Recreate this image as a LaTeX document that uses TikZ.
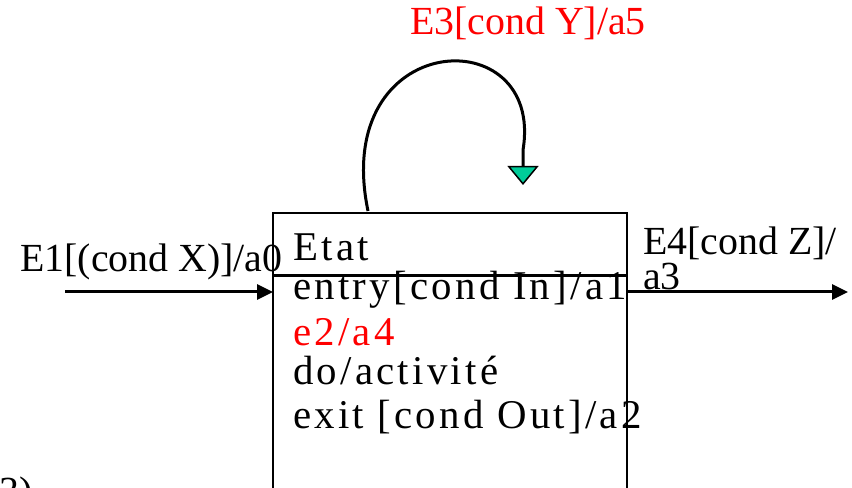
\documentclass[tikz,border=0pt]{standalone}
\usepackage{fontspec}
\setmainfont{Liberation Serif}
\newfontfamily\spacedserif[LetterSpace=8]{Liberation Serif}
\usepackage{tikz}
\usetikzlibrary{arrows.meta, calc}
\definecolor{labelred}{RGB}{255, 0, 0}
\definecolor{tipgreen}{RGB}{0, 204, 153}
\newcommand{\boxtext}{\spacedserif\fontsize{41}{46}\selectfont}
\newcommand{\lbltext}{\fontsize{40}{46}\selectfont}
\tikzset{
    trans/.style={line width=3bp, -{Triangle[length=16bp, width=15bp]}},
    lbl/.style={anchor=base west, inner sep=0pt, font=\lbltext},
    line/.style={anchor=base west, inner sep=0pt, font=\boxtext}
}

\begin{document}
\begin{tikzpicture}[x=1bp, y=-1bp]
        \useasboundingbox (0,0) rectangle (852,488);
        \clip (0,0) rectangle (852,488);
        % state box
        \node (etat) [draw, line width=2.5bp, outer sep=0pt, inner sep=0pt, minimum width=354bp, minimum height=300bp, anchor=north west] at (273,213) {};
        \draw[line width=3bp] ($(etat.north west)+(0,63)$) -- ($(etat.north east)+(0,63)$);
        \node (name) [line] at (293,261) {Etat};
        \node (entry) [line] at (293,300) {entry[cond In]/a1};
        \node (inner) [line, text=labelred] at (293,345) {e2/a4};
        \node (do) [line] at (293,384) {do/activité};
        \node (exit) [line] at (293,428) {exit [cond Out]/a2};
        % transitions
        \coordinate (src) at (65,292);
        \coordinate (dst) at (848,292);
        \draw[trans] (src) -- (src -| etat.west);
        \draw[trans] (dst -| etat.east) -- (dst);
        \coordinate (loopstart) at (368,211);
        \coordinate (looptip) at (523,185);
        \draw[line width=3bp, -{Triangle[length=19bp, width=31bp, fill=tipgreen, line width=1.5bp]}]
        (loopstart) .. controls (330,28) and (545,18) .. (523,150) -- (looptip);
        % labels
        \node (e1) [lbl] at (20,272) {E1[(cond X)]/a0};
        \node (e3) [lbl, text=labelred] at (410,35) {E3[cond Y]/a5};
        \node (e4) [lbl] at (643,255) {E4[cond Z]/};
        \node (a3) [lbl] at (643,290) {a3};
        \node (three) [lbl] at (-1,504) {3)};
    \end{tikzpicture}
\end{document}
